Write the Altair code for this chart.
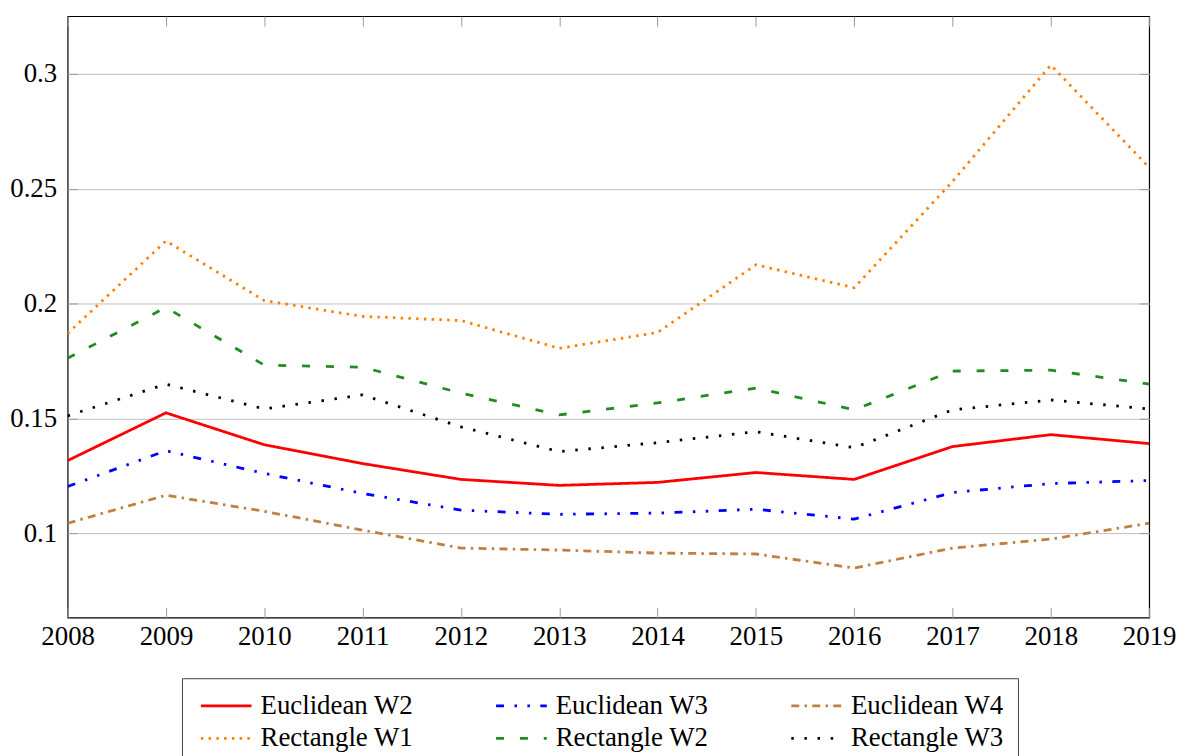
import altair as alt
import pandas as pd

years = list(range(2008, 2020))

euclidean_w2 = [0.1316, 0.1524, 0.1385, 0.1303, 0.1234, 0.1208, 0.1221, 0.1264, 0.1234, 0.1377, 0.1429, 0.1390]
euclidean_w3 = [0.1203, 0.1359, 0.1260, 0.1173, 0.1100, 0.1082, 0.1087, 0.1104, 0.1061, 0.1177, 0.1216, 0.1229]
euclidean_w4 = [0.1043, 0.1165, 0.1095, 0.1013, 0.0935, 0.0926, 0.0913, 0.0909, 0.0848, 0.0935, 0.0974, 0.1043]
rectangle_w1 = [0.1870, 0.2273, 0.2013, 0.1944, 0.1926, 0.1805, 0.1874, 0.2169, 0.2069, 0.2532, 0.3039, 0.2593]
rectangle_w2 = [0.1762, 0.1983, 0.1732, 0.1723, 0.1610, 0.1515, 0.1567, 0.1632, 0.1537, 0.1706, 0.1710, 0.1649]
rectangle_w3 = [0.1511, 0.1649, 0.1541, 0.1602, 0.1463, 0.1355, 0.1394, 0.1442, 0.1372, 0.1537, 0.1580, 0.1541]

series_names = ["Euclidean W2", "Euclidean W3", "Euclidean W4",
                "Rectangle W1", "Rectangle W2", "Rectangle W3"]
series_values = [euclidean_w2, euclidean_w3, euclidean_w4,
                 rectangle_w1, rectangle_w2, rectangle_w3]
series_colors = ["#ff0000", "#0000ff", "#bf8040", "#ff8000", "#228b22", "#000000"]
series_dashes = [[1, 0], [8, 10.5, 2.5, 10.5, 2.5, 10.5], [8, 5.3, 2.5, 5.3],
                 [2.5, 5.3], [8, 16], [2.5, 10.7]]

y_ticks = [0.1, 0.15, 0.2, 0.25, 0.3]

rows = []
for name, vals in zip(series_names, series_values):
    for yr, v in zip(years, vals):
        rows.append({"year": yr, "value": v, "series": name})
df = pd.DataFrame(rows)

FONT = "Liberation Serif"
FS = 27
x_scale = alt.Scale(domain=[2008, 2019], nice=False, zero=False)
y_scale = alt.Scale(domain=[0.0632, 0.3252], nice=False, zero=False)

lines = alt.Chart(df).mark_line(strokeWidth=2.8, clip=True, strokeCap="butt").encode(
    x=alt.X("year:Q", scale=x_scale, title=None,
            axis=alt.Axis(orient="bottom", values=years, format="d", offset=-10,
                          tickSize=10, tickColor="#999999", domain=False, grid=False,
                          labelFont=FONT, labelFontSize=FS, labelColor="black",
                          labelPadding=6, labelFlush=False, labelOverlap=False)),
    y=alt.Y("value:Q", scale=y_scale, title=None,
            axis=alt.Axis(orient="left", values=y_ticks, format="~g", offset=-10,
                          tickSize=10, tickColor="#999999", domain=False, grid=True,
                          gridColor="#bfbfbf", gridWidth=1,
                          labelFont=FONT, labelFontSize=FS, labelColor="black",
                          labelPadding=11)),
    color=alt.Color("series:N", scale=alt.Scale(domain=series_names, range=series_colors),
                    legend=alt.Legend(title=None, orient="none", legendX=115, legendY=666,
                                      direction="horizontal",
                                      columns=3, columnPadding=77, rowPadding=5,
                                      symbolType="M-1,0H5", symbolStrokeWidth=2.8, symbolSize=289,
                                      labelFont=FONT, labelFontSize=FS, labelColor="black",
                                      labelOffset=38, padding=14, strokeColor="#444444",
                                      fillColor="white", labelLimit=400)),
    strokeDash=alt.StrokeDash("series:N", scale=alt.Scale(domain=series_names, range=series_dashes),
                              legend=None),
)

ghost = alt.Chart(df).mark_point(opacity=0).encode(
    x=alt.X("year:Q", scale=x_scale, title=None,
            axis=alt.Axis(orient="top", values=years, offset=-10, tickSize=10,
                          tickColor="#999999", domain=False, grid=False, labels=False)),
    y=alt.Y("value:Q", scale=y_scale, title=None,
            axis=alt.Axis(orient="right", values=y_ticks, offset=-10, tickSize=10,
                          tickColor="#999999", domain=False, grid=False, labels=False)),
)

chart = alt.layer(lines, ghost).resolve_axis(x="independent", y="independent").properties(
    width=1088, height=605,
    autosize=alt.AutoSizeParams(type="none"),
    padding={"left": 60, "top": 6, "right": 29, "bottom": 137},
).configure_view(stroke="black", strokeWidth=1.2)

chart.save("out.html", embed_options={"renderer": "svg", "actions": False})
